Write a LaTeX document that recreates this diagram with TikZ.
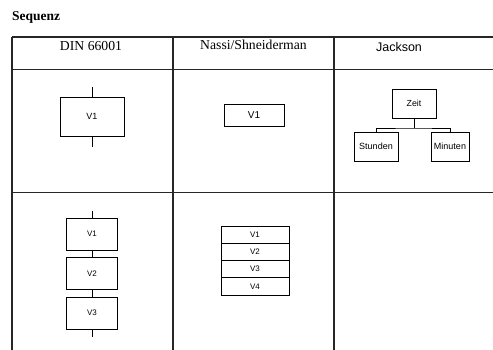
\documentclass[tikz,border=0pt]{standalone}
\usepackage{fontspec}
\setmainfont{Liberation Serif}
\setsansfont{Liberation Sans}
\begin{document}
\begin{tikzpicture}[x=1pt,y=-1pt,
  grid/.style={line width=1.1pt, black!85},
  box/.style={draw, line width=0.8pt, inner sep=0pt, font=\sffamily\fontsize{9}{10}\selectfont},
  conn/.style={line width=0.8pt},
  head/.style={font=\fontsize{13.7}{15}\selectfont, inner sep=0pt}
]
\useasboundingbox[fill=white] (0,0) rectangle (493,350);
% title
\node[anchor=base west, inner sep=0pt, font=\bfseries\fontsize{13.5}{15}\selectfont] (title) at (12,21) {Sequenz};
% table
\coordinate (tl) at (12,37);
\draw[grid] (12,37) -- (493,37);
\draw[grid] (12,69.5) -- (493,69.5);
\draw[grid] (12,192.5) -- (493,192.5);
\draw[grid] (12,37) -- (12,350);
\draw[grid] (173,37) -- (173,350);
\draw[grid] (334,37) -- (334,350);
% headers
\node[head] (h1) at (91,46) {DIN 66001};
\node[head] (h2) at (253.5,45) {Nassi/Shneiderman};
\node[head, font=\sffamily\fontsize{12.5}{14}\selectfont] (h3) at (399,47) {Jackson};
% DIN single
\node[box, minimum width=64pt, minimum height=39pt] (d1) at (92,116.5) {V1};
\coordinate (d1t) at (92,87);
\coordinate (d1b) at (92,147);
\draw[conn] (d1t) -- (d1.north);
\draw[conn] (d1.south) -- (d1b);
% NS single
\node[box, minimum width=60pt, minimum height=22pt, font=\sffamily\fontsize{10}{11}\selectfont] (n1) at (254,115) {V1};
% Jackson
\node[box, minimum width=44pt, minimum height=29pt, font=\sffamily\fontsize{8.8}{10}\selectfont] (zeit) at (414,103.5) {Zeit};
\node[box, minimum width=44pt, minimum height=29pt] (stunden) at (376,146.5) {Stunden};
\node[box, minimum width=38pt, minimum height=29pt] (minuten) at (450,146.5) {Minuten};
\coordinate (j) at (414,128);
\draw[conn] (zeit.south) -- (j);
\draw[conn] (stunden.north) |- (j) -| (minuten.north);
% DIN sequence
\node[box, minimum width=51pt, minimum height=32pt, font=\sffamily\fontsize{8}{9}\selectfont] (s1) at (92,234) {V1};
\node[box, minimum width=51pt, minimum height=32pt, font=\sffamily\fontsize{8}{9}\selectfont] (s2) at (92,273.5) {V2};
\node[box, minimum width=51pt, minimum height=32pt, font=\sffamily\fontsize{8}{9}\selectfont] (s3) at (92,313) {V3};
\coordinate (s1t) at (92,211);
\coordinate (s3b) at (92,337);
\draw[conn] (s1t) -- (s1.north);
\draw[conn] (s1.south) -- (s2.north);
\draw[conn] (s2.south) -- (s3.north);
\draw[conn] (s3.south) -- (s3b);
% NS sequence
\foreach \i/\y in {1/234.6, 2/251.9, 3/269.1, 4/286.4}{
  \node[box, minimum width=68pt, minimum height=17.25pt, font=\sffamily\fontsize{8}{9}\selectfont] (ns\i) at (255,\y) {V\i};
}
\end{tikzpicture}
\end{document}
